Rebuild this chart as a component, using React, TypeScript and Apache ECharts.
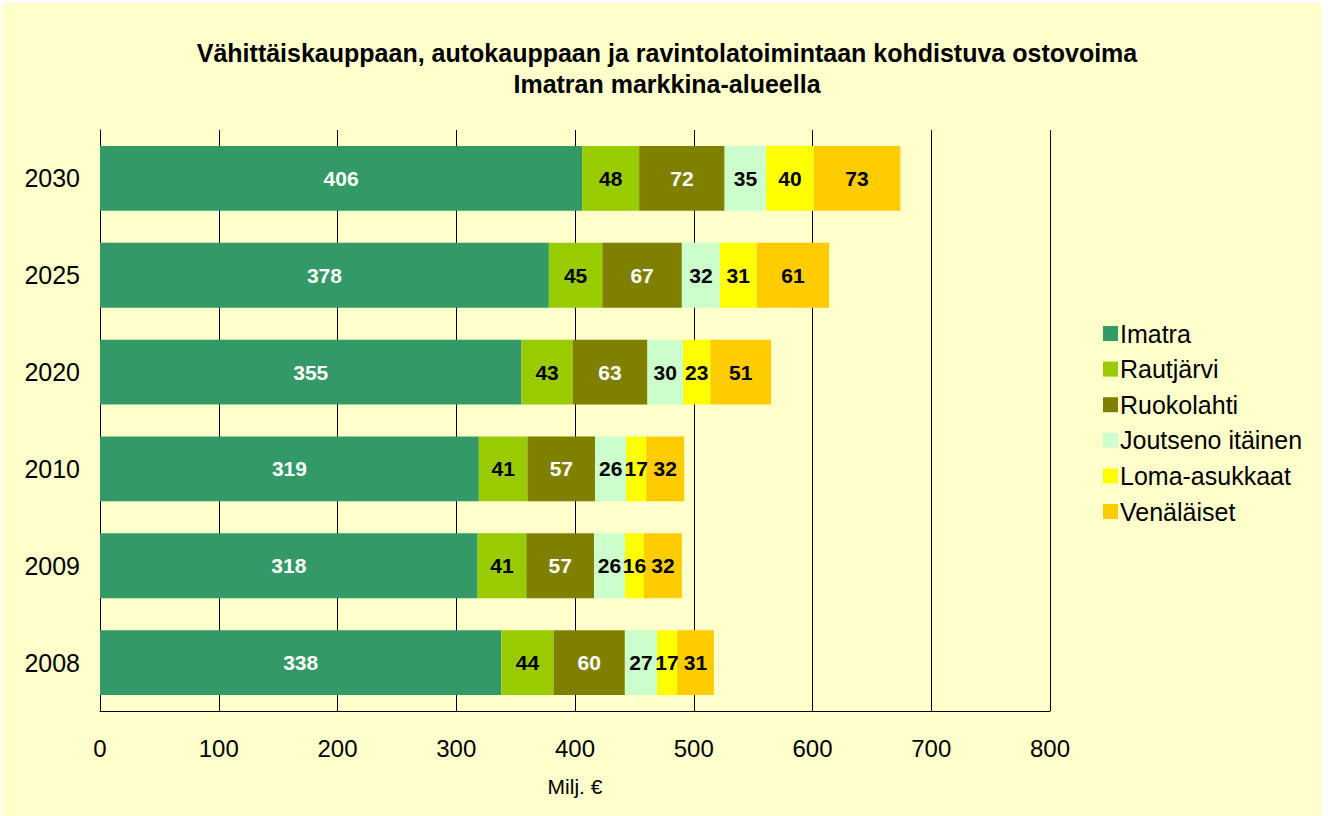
import React, { useEffect, useRef } from "react";
import * as echarts from "echarts";

const years = ["2008", "2009", "2010", "2020", "2025", "2030"];
const seriesNames = ["Imatra", "Rautjärvi", "Ruokolahti", "Joutseno itäinen", "Loma-asukkaat", "Venäläiset"];
const colors = ["#339966", "#99CC00", "#808000", "#CCFFCC", "#FFFF00", "#FFCC00"];
const labelColors = ["#FFFFFF", "#000000", "#FFFFFF", "#000000", "#000000", "#000000"];
const imatra = [338, 318, 319, 355, 378, 406];
const rautjarvi = [44, 41, 41, 43, 45, 48];
const ruokolahti = [60, 57, 57, 63, 67, 72];
const joutseno = [27, 26, 26, 30, 32, 35];
const loma = [17, 16, 17, 23, 31, 40];
const venalaiset = [31, 32, 32, 51, 61, 73];
const seriesData = [imatra, rautjarvi, ruokolahti, joutseno, loma, venalaiset];

export default function App() {
  const ref = useRef<HTMLDivElement>(null);
  useEffect(() => {
    const chart = echarts.init(ref.current!, undefined, { renderer: "svg" });
    const font = "Liberation Sans, Arial, sans-serif";
    chart.setOption({
      animation: false,
      backgroundColor: "#FFFFFF",
      textStyle: { fontFamily: font },
      graphic: [
        { type: "rect", z: -10, shape: { x: 2, y: 3, width: 1319, height: 813 }, style: { fill: "#FFFFCC" }, silent: true },
      ],
      title: {
        text: "Vähittäiskauppaan, autokauppaan ja ravintolatoimintaan kohdistuva ostovoima\nImatran markkina-alueella",
        left: 662,
        textAlign: "center",
        top: 32,
        textStyle: { fontFamily: font, fontSize: 25, fontWeight: "bold", color: "#000", lineHeight: 31 },
      },
      legend: {
        orient: "vertical",
        left: 1098,
        top: 316,
        itemWidth: 15,
        itemHeight: 15,
        itemGap: 10.6,
        icon: "rect",
        data: seriesNames,
        textStyle: { fontFamily: font, fontSize: 25, lineHeight: 25, color: "#000", padding: [0, 0, 0, -3] },
      },
      grid: { left: 100, top: 130, width: 950, height: 581, containLabel: false },
      xAxis: {
        type: "value",
        min: 0,
        max: 800,
        interval: 100,
        name: "Milj. €",
        nameLocation: "middle",
        nameGap: 65,
        nameTextStyle: { fontFamily: font, fontSize: 21, color: "#000" },
        axisLine: { show: true, lineStyle: { color: "#000", width: 1 } },
        axisTick: { show: false },
        axisLabel: { fontFamily: font, fontSize: 24, color: "#000", margin: 25 },
        splitLine: { show: true, lineStyle: { color: "#000", width: 1 } },
      },
      yAxis: {
        type: "category",
        data: years,
        axisLine: { show: true, lineStyle: { color: "#000", width: 1 } },
        axisTick: { show: false },
        axisLabel: { fontFamily: font, fontSize: 25, color: "#000", margin: 20 },
      },
      series: seriesNames.map((name, i) => ({
        name,
        type: "bar",
        stack: "total",
        data: seriesData[i],
        barCategoryGap: "33%",
        itemStyle: { color: colors[i] },
        label: {
          show: true,
          position: "inside",
          color: labelColors[i],
          fontFamily: font,
          fontSize: 21,
          fontWeight: "bold",
        },
      })),
    });
    return () => chart.dispose();
  }, []);
  return <div ref={ref} style={{ position: "fixed", left: 0, top: 0, width: 1330, height: 816 }} />;
}
